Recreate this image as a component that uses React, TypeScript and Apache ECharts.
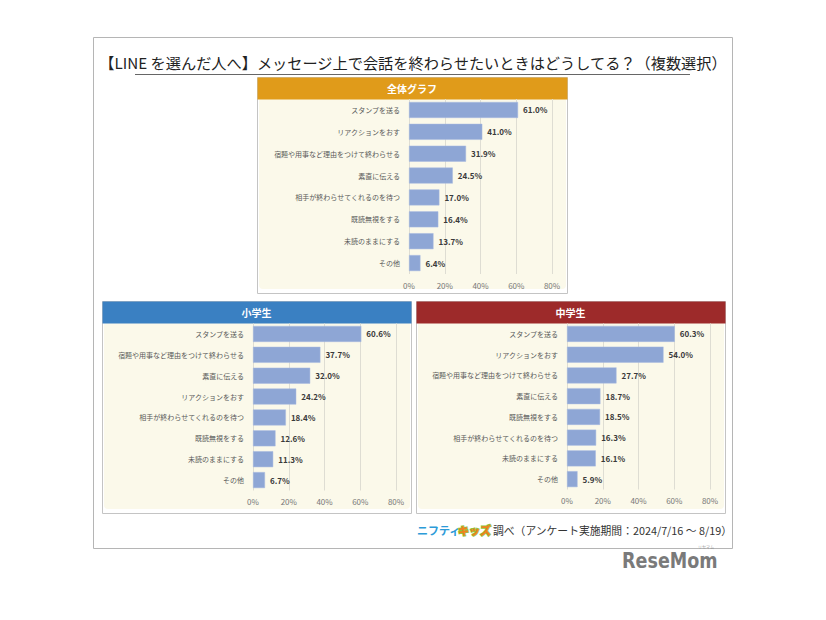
import React, { useEffect, useRef } from "react";
import * as echarts from "echarts";

const titleText = "【LINE を選んだ人へ】メッセージ上で会話を終わらせたいときはどうしてる？（複数選択）";
const panelTitles = ["全体グラフ", "小学生", "中学生"];
const allCats = ["スタンプを送る", "リアクションをおす", "宿題や用事など理由をつけて終わらせる", "素直に伝える", "相手が終わらせてくれるのを待つ", "既読無視をする", "未読のままにする", "その他"];
const allVals = [61.0, 41.0, 31.9, 24.5, 17.0, 16.4, 13.7, 6.4];
const elemCats = ["スタンプを送る", "宿題や用事など理由をつけて終わらせる", "素直に伝える", "リアクションをおす", "相手が終わらせてくれるのを待つ", "既読無視をする", "未読のままにする", "その他"];
const elemVals = [60.6, 37.7, 32.0, 24.2, 18.4, 12.6, 11.3, 6.7];
const juniorCats = ["スタンプを送る", "リアクションをおす", "宿題や用事など理由をつけて終わらせる", "素直に伝える", "既読無視をする", "相手が終わらせてくれるのを待つ", "未読のままにする", "その他"];
const juniorVals = [60.3, 54.0, 27.7, 18.7, 18.5, 16.3, 16.1, 5.9];
const xTicks = [0, 20, 40, 60, 80];
const footerSource = "調べ（アンケート実施期間：2024/7/16 ～ 8/19）";

const FONT = "'Noto Sans CJK JP', 'Noto Sans', sans-serif";

export default function App() {
  const ref = useRef<HTMLDivElement>(null);
  useEffect(() => {
    const chart = echarts.init(ref.current!, null, { renderer: "svg" });
    const panels = [
      { title: panelTitles[0], cats: allCats, vals: allVals, color: "#e09b1a", box: [257, 77, 310, 216], grid: { left: 409, top: 99, width: 143, height: 175 } },
      { title: panelTitles[1], cats: elemCats, vals: elemVals, color: "#3a80c2", box: [102, 301, 309, 212], grid: { left: 253, top: 323.5, width: 143, height: 167 } },
      { title: panelTitles[2], cats: juniorCats, vals: juniorVals, color: "#9d2a2a", box: [416, 301, 309, 212], grid: { left: 567, top: 323.5, width: 143, height: 166 } },
    ];
    const graphics: any[] = [
      { type: "rect", shape: { x: 93.5, y: 37.5, width: 639, height: 511 }, style: { fill: "#fff", stroke: "#b5b5b5", lineWidth: 1 }, z: -10 },
      { type: "text", x: 413, y: 61.5, style: { text: titleText, fill: "#222", font: `15.2px ${FONT}`, textAlign: "center", textVerticalAlign: "middle" } },
      { type: "line", shape: { x1: 135, y1: 74.5, x2: 690, y2: 74.5 }, style: { stroke: "#666", lineWidth: 1 } },
    ];
    panels.forEach((p) => {
      const [x, y, w, h] = p.box;
      graphics.push(
        { type: "rect", shape: { x: x + 0.5, y: y + 0.5, width: w, height: h }, style: { fill: "#fff", stroke: "#c4c4c4", lineWidth: 1 }, z: -5 },
        { type: "rect", shape: { x: x + 2, y: y + 20, width: w - 3, height: h - 24, r: 4 }, style: { fill: "#fbf9ea" }, z: -4 },
        { type: "rect", shape: { x: x + 0.5, y: y + 0.5, width: w, height: 22 }, style: { fill: p.color }, z: -3 },
        { type: "text", x: x + w / 2, y: y + 11.5, style: { text: p.title, fill: "#fff", font: `bold 10px ${FONT}`, textAlign: "center", textVerticalAlign: "middle" } }
      );
    });
    graphics.push(
      { type: "text", x: 417, y: 530, style: { text: "ニフティ", fill: "#2d9bd8", font: `bold 11px ${FONT}`, textVerticalAlign: "middle" } },
      { type: "text", x: 458, y: 530, style: { text: "キッズ", fill: "#f0821e", stroke: "#8cc63f", lineWidth: 1.5, font: `900 11px ${FONT}`, textVerticalAlign: "middle" } },
      { type: "text", x: 493, y: 530, style: { text: footerSource, fill: "#333", font: `10.8px ${FONT}`, textVerticalAlign: "middle" } },
      { type: "text", x: 622, y: 561, scaleX: 0.93, style: { text: "ReseMom", fill: "#7a7a7a", font: `bold 21px 'DejaVu Sans Condensed', 'Roboto', sans-serif`, textVerticalAlign: "middle" } },
      { type: "text", x: 706, y: 546.5, style: { text: "リセマム", fill: "#999", font: `4px ${FONT}`, textAlign: "center", textVerticalAlign: "middle" } }
    );

    const option: any = {
      animation: false,
      textStyle: { fontFamily: FONT },
      grid: panels.map((p) => ({ ...p.grid, containLabel: false })),
      xAxis: panels.map((_, i) => ({
        type: "value", gridIndex: i, min: xTicks[0], max: xTicks[xTicks.length - 1], interval: 20,
        axisLine: { show: false }, axisTick: { show: false },
        splitLine: { show: true, lineStyle: { color: "#deddd3", width: 1 } },
        axisLabel: { formatter: "{value}%", fontSize: 8, color: "#777", margin: 7, fontFamily: FONT },
      })),
      yAxis: panels.map((p, i) => ({
        type: "category", gridIndex: i, data: p.cats, inverse: true,
        axisLine: { show: false }, axisTick: { show: false },
        axisLabel: { fontSize: 7, color: "#595959", margin: 9, fontFamily: FONT, interval: 0 },
      })),
      series: panels.map((p, i) => ({
        type: "bar", xAxisIndex: i, yAxisIndex: i, data: p.vals, barWidth: 16,
        itemStyle: { color: "#8ea6d5", borderColor: "#a8bbe0", borderWidth: 0.5 },
        label: { show: true, position: "right", distance: 5, fontSize: 8, fontWeight: "bold", color: "#3a3a3a", fontFamily: FONT, formatter: (d: any) => d.value.toFixed(1) + "%" },
      })),
      graphic: graphics,
    };
    chart.setOption(option);
    return () => chart.dispose();
  }, []);
  return <div ref={ref} style={{ position: "fixed", left: 0, top: 0, width: 826, height: 620, background: "#fff" }} />;
}
